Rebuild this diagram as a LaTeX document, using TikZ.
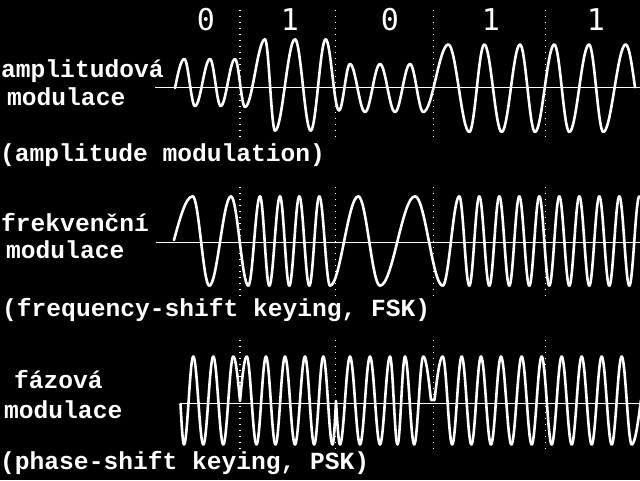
\documentclass[tikz,border=0pt]{standalone}
\usepackage{fontspec}
\newfontfamily\lblfont{Liberation Mono}
\newfontfamily\digfont{DejaVu Sans Mono}
\tikzset{
  wave/.style={draw=white, line width=2.6pt, line cap=round, line join=round},
  axisline/.style={draw=white, line width=1.2pt},
  bitline/.style={draw=white, line width=1.1pt, dash pattern=on 1.2pt off 4.8pt},
  lbl/.style={text=white, inner sep=0pt, anchor=base west, font=\lblfont\bfseries\fontsize{24.6}{24.6}\selectfont},
  dig/.style={text=white, inner sep=0pt, anchor=base, font=\digfont\fontsize{30}{30}\selectfont}
}
\newcommand\hwaves[3]{%
  \foreach \xx/\yy [remember=\xx as \lx (initially #1), remember=\yy as \ly (initially #2)] in {#3}
    {\draw[wave] (\lx,\ly) cos ({(\lx+\xx)/2},{(\ly+\yy)/2}) sin (\xx,\yy);}}
\begin{document}
\begin{tikzpicture}[x=1pt,y=-1pt]
\fill[black] (0,0) rectangle (640,480);
\useasboundingbox (0,0) rectangle (640,480);
\begin{scope}
\clip (0,0) rectangle (640,480);
% bit labels
\node[dig] (b1) at (206,30) {0};
\node[dig] (b2) at (290,30) {1};
\node[dig] (b3) at (390,30) {0};
\node[dig] (b4) at (491,30) {1};
\node[dig] (b5) at (596,30) {1};
% dotted bit borders
\foreach \bx in {240,335.7,433.3,545.7}{
  \draw[bitline] (\bx,10) -- (\bx,140);
  \draw[bitline] (\bx,187) -- (\bx,298);
  \draw[bitline] (\bx,340) -- (\bx,453);
}
% axes
\draw[axisline] (155,87.5) -- (640,87.5);
\draw[axisline] (156,242.7) -- (640,242.7);
\draw[axisline] (180,403.3) -- (640,403.3);
% AM
\draw[wave] (175,88) sin (184.3,59);
\hwaves{184.3}{59}{195/106, 210/59, 220.7/106, 235/59, 245/107, 265/39.3, 275/130.7, 295/39.3, 310.7/130.7, 325.7/39.3, 339/110.5, 350/64, 365/112, 380/64, 395/112, 410/64, 423.3/112, 448.3/44.5, 469.3/132, 484.3/44.5, 501.7/132, 520/44.5, 535/132, 554.3/44.5, 569.3/132, 589/44.5, 603.3/132, 625.7/44.5}
\draw[wave] (625.7,44.5) cos (635,87.3);
% FSK
\draw[wave] (174,240) sin (192.7,196.3);
\hwaves{192.7}{196.3}{209.3/285.7, 231/196.3, 248.3/285.7, 260/196.3, 269.3/285.7, 280/196.3, 289.3/285.7, 299.3/196.3, 309.3/285.7, 319.3/196.3, 330/285.7, 358.3/196.3, 380/285.7, 415/196.3, 442.7/285.7, 459.3/196.3, 469.3/285.7, 479.3/196.3, 489.3/285.7, 499.3/196.3, 509.3/285.7, 519.3/196.3, 529.3/285.7, 539.3/196.3, 549.3/285.7, 559.3/196.3, 569.3/285.7, 579.3/196.3, 589.3/285.7, 599.3/196.3, 609.3/285.7, 619.3/196.3, 629.3/285.7, 639.3/196.3}
% PSK
\draw[wave] (180.5,404) sin (184,444.5);
\hwaves{184}{444.5}{193.3/356.5, 203.3/444.5, 213.3/356.5, 223.3/444.5, 233.3/356.5}
\draw[wave] (233.3,356.5) cos (240,401) sin (246.7,356.5);
\hwaves{246.7}{356.5}{256.5/444.5, 266/356.5, 275.5/444.5, 285/356.5, 295/444.5, 305/356.5, 314.2/444.5, 323.3/356.5, 332.5/444.5}
\draw[wave] (332.5,444.5) cos (336,401) sin (340,444.5);
\hwaves{340}{444.5}{350/356.5, 360/444.5, 370/356.5, 380/444.5, 390/356.5, 397.5/444.5, 405/356.5, 414.2/444.5, 423.3/356.5}
\draw[wave] (423.3,356.5) cos (431,400) -- (434.5,400) sin (442.7,356.5);
\hwaves{442.7}{356.5}{452.2/444.5, 461.7/356.5, 471.4/444.5, 481/356.5, 491/444.5, 501/356.5, 511.4/444.5, 521.7/356.5, 531.7/444.5, 541.7/356.5, 551.7/444.5, 561.7/356.5, 571.7/444.5, 581.7/356.5, 591.7/444.5, 601.7/356.5, 611.7/444.5, 621.7/356.5, 631.7/444.5}
\draw[wave] (631.7,444.5) cos (641,400);
\end{scope}
% labels
\node[lbl] (am1) at (1,77) {amplitudová};
\node[lbl] (am2) at (7,105) {modulace};
\node[lbl] (am3) at (0,161) {(amplitude modulation)};
\node[lbl] (fm1) at (1,231.7) {frekvenční};
\node[lbl] (fm2) at (6,258.3) {modulace};
\node[lbl] (fm3) at (2,316.5) {(frequency-shift keying, FSK)};
\node[lbl] (pm1) at (14,388.3) {fázová};
\node[lbl] (pm2) at (4,418) {modulace};
\node[lbl] (pm3) at (0,469) {(phase-shift keying, PSK)};
\end{tikzpicture}
\end{document}
